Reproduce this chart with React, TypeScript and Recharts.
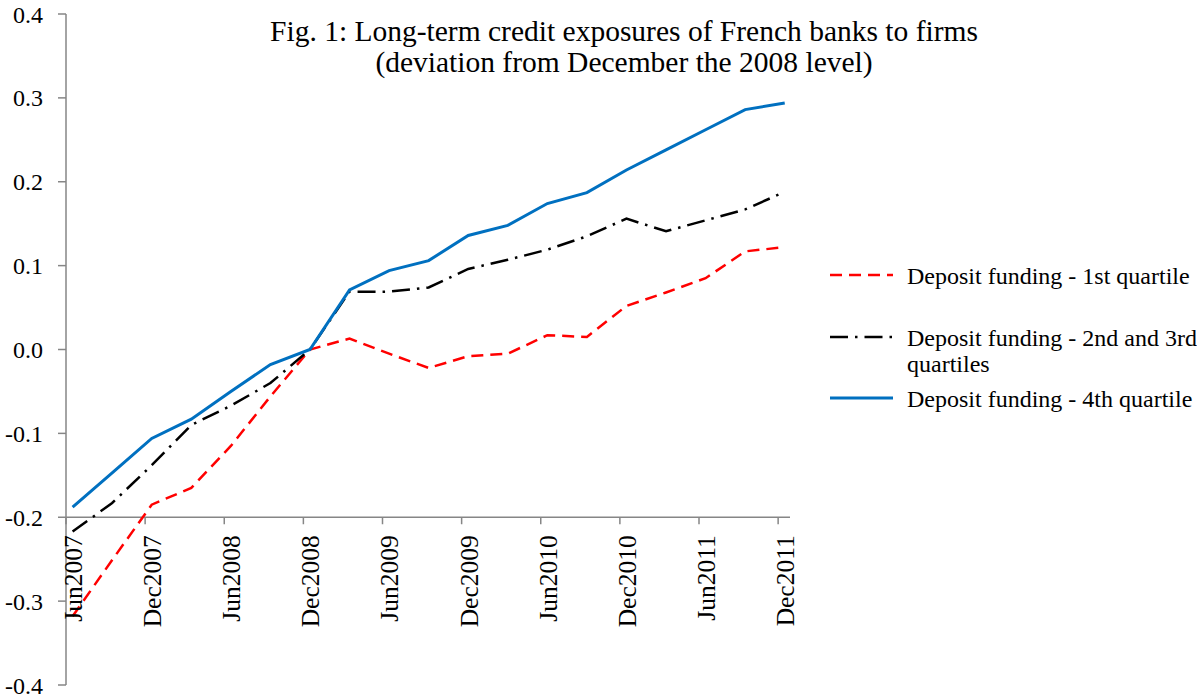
import { LineChart, Line, XAxis, YAxis, ReferenceLine } from 'recharts';

const quarters = [
  'Jun2007', 'Sep2007', 'Dec2007', 'Mar2008', 'Jun2008', 'Sep2008', 'Dec2008',
  'Mar2009', 'Jun2009', 'Sep2009', 'Dec2009', 'Mar2010', 'Jun2010', 'Sep2010',
  'Dec2010', 'Mar2011', 'Jun2011', 'Sep2011', 'Dec2011',
];

const firstQuartile = [
  -0.318, -0.251, -0.185, -0.165, -0.115, -0.056, 0.0, 0.013, -0.005, -0.022,
  -0.008, -0.005, 0.017, 0.015, 0.052, 0.068, 0.085, 0.117, 0.122,
];

const middleQuartiles = [
  -0.217, -0.183, -0.138, -0.09, -0.067, -0.04, 0.0, 0.069, 0.069, 0.074,
  0.096, 0.107, 0.119, 0.135, 0.156, 0.141, 0.154, 0.167, 0.188,
];

const fourthQuartile = [
  -0.188, -0.147, -0.106, -0.083, -0.05, -0.018, 0.0, 0.071, 0.094, 0.106,
  0.136, 0.148, 0.174, 0.187, 0.214, 0.238, 0.262, 0.286, 0.294,
];

const xTickLabels = [
  'Jun2007', 'Dec2007', 'Jun2008', 'Dec2008', 'Jun2009',
  'Dec2009', 'Jun2010', 'Dec2010', 'Jun2011', 'Dec2011',
];

const yTicks = [-0.4, -0.3, -0.2, -0.1, 0, 0.1, 0.2, 0.3, 0.4];

const FONT = "'Liberation Serif', 'Times New Roman', serif";
const AXIS_GREY = '#868686';
const W = 1197;
const H = 699;
const PLOT_TOP = 14;
const PLOT_BOTTOM = 685;
const Y_MIN = -0.4;
const Y_MAX = 0.4;
const X_CROSS = -0.2; // category axis crosses the value axis here

const MONTHS: Record<string, number> = { Mar: 3, Jun: 6, Sep: 9, Dec: 12 };

// months elapsed since Jun 2007
function monthIndex(label: string) {
  const m = MONTHS[label.slice(0, 3)];
  const y = Number(label.slice(3));
  return (y - 2007) * 12 + m - 6;
}

const series = [
  { key: 'q1', name: 'Deposit funding - 1st quartile', color: '#ff0000', dash: '12 7', width: 2.5 },
  { key: 'q23', name: 'Deposit funding - 2nd and 3rd quartiles', color: '#000000', dash: '18 7 2.5 7', width: 2.5 },
  { key: 'q4', name: 'Deposit funding - 4th quartile', color: '#0070c0', dash: undefined, width: 3 },
];

// observations are dated mid-month on the date axis
const data = quarters.map((q, i) => ({
  t: monthIndex(q) + 0.5,
  q1: firstQuartile[i],
  q23: middleQuartiles[i],
  q4: fourthQuartile[i],
}));

const xTicks = xTickLabels.map(monthIndex);
const crossY = PLOT_TOP + ((Y_MAX - X_CROSS) / (Y_MAX - Y_MIN)) * (PLOT_BOTTOM - PLOT_TOP);

function XTick(props: any) {
  const { x, payload } = props;
  const label = xTickLabels[xTicks.indexOf(payload.value)];
  return (
    <g>
      <line x1={x} x2={x} y1={crossY} y2={crossY + 7} stroke={AXIS_GREY} strokeWidth={1.5} />
      <text
        transform={`translate(${x + 7},${crossY + 18}) rotate(-90)`}
        textAnchor="end"
        dy="0.35em"
        fontSize={25.5}
        fontFamily={FONT}
        fill="#000"
      >
        {label}
      </text>
    </g>
  );
}

function LegendBox() {
  const gaps = [0, 36, 9];
  return (
    <div
      style={{
        position: 'absolute',
        left: 830,
        top: 263,
        fontFamily: FONT,
        fontSize: 24,
        lineHeight: '26px',
        color: '#000',
      }}
    >
      {series.map((s, i) => (
        <div key={s.key} style={{ display: 'flex', alignItems: 'flex-start', marginTop: gaps[i] }}>
          <svg width={77} height={26} style={{ flex: 'none' }}>
            <line x1={0} x2={63} y1={12} y2={12} stroke={s.color} strokeWidth={s.width} strokeDasharray={s.dash} />
          </svg>
          <div style={{ width: 296, flex: 'none' }}>{s.name}</div>
        </div>
      ))}
    </div>
  );
}

export default function App() {
  return (
    <div style={{ position: 'absolute', left: 0, top: 0, width: W, height: H, overflow: 'hidden', background: '#fff' }}>
      <LineChart
        width={W}
        height={H}
        data={data}
        margin={{ top: PLOT_TOP, right: 407, bottom: 13, left: 0 }}
        style={{ fontFamily: FONT }}
      >
        <XAxis
          dataKey="t"
          type="number"
          domain={[0, 54.9]}
          ticks={xTicks}
          axisLine={false}
          tickLine={false}
          height={1}
          tick={<XTick />}
          interval={0}
        />
        <YAxis
          domain={[Y_MIN, Y_MAX]}
          ticks={yTicks}
          width={66}
          tickSize={8}
          tickMargin={15}
          tickFormatter={(v: number) => v.toFixed(1)}
          tick={{ fontSize: 24, fontFamily: FONT, fill: '#000' }}
          axisLine={{ stroke: AXIS_GREY, strokeWidth: 1.5 }}
          tickLine={{ stroke: AXIS_GREY, strokeWidth: 1.5 }}
          allowDataOverflow
        />
        <ReferenceLine y={X_CROSS} stroke={AXIS_GREY} strokeWidth={1.5} />
        {series.map((s) => (
          <Line
            key={s.key}
            dataKey={s.key}
            name={s.name}
            stroke={s.color}
            strokeWidth={s.width}
            strokeDasharray={s.dash}
            dot={false}
            type="linear"
            isAnimationActive={false}
          />
        ))}
      </LineChart>
      <div
        style={{
          position: 'absolute',
          left: 224,
          top: 16,
          width: 800,
          textAlign: 'center',
          whiteSpace: 'nowrap',
          fontFamily: FONT,
          fontSize: 29.5,
          lineHeight: '31px',
          color: '#000',
        }}
      >
        Fig. 1: Long-term credit exposures of French banks to firms
        <br />
        (deviation from December the 2008 level)
      </div>
      <LegendBox />
    </div>
  );
}
